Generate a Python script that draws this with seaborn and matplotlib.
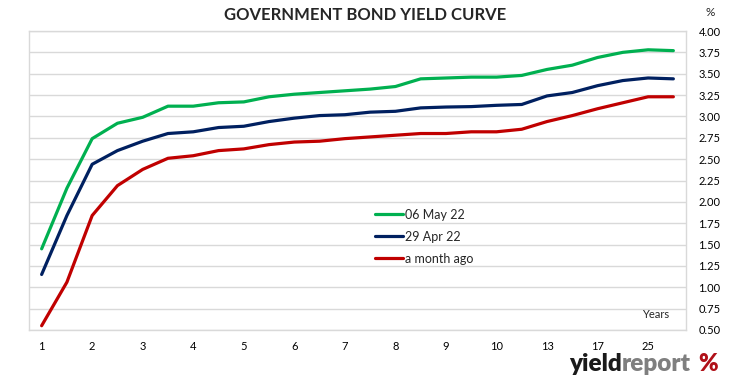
import pandas as pd
import seaborn as sns
import matplotlib.pyplot as plt

# tenor buckets (years) shown on the x axis
tenors = ["1", "1.5", "2", "2.5", "3", "3.5", "4", "4.5", "5", "5.5", "6", "6.5", "7",
          "7.5", "8", "8.5", "9", "9.5", "10", "12", "13", "15", "17", "20", "25", "30"]
tick_labels = ["1", "2", "3", "4", "5", "6", "7", "8", "9", "10", "13", "17", "25"]

may_06 = [1.45, 2.16, 2.74, 2.92, 2.99, 3.12, 3.12, 3.16, 3.17, 3.23, 3.26, 3.28, 3.30,
          3.32, 3.35, 3.44, 3.45, 3.46, 3.46, 3.48, 3.55, 3.60, 3.69, 3.75, 3.78, 3.77]
apr_29 = [1.15, 1.84, 2.44, 2.60, 2.71, 2.80, 2.82, 2.87, 2.885, 2.94, 2.98, 3.01, 3.02,
          3.05, 3.06, 3.10, 3.11, 3.115, 3.13, 3.14, 3.24, 3.28, 3.36, 3.42, 3.45, 3.44]
month_ago = [0.55, 1.06, 1.84, 2.19, 2.38, 2.51, 2.54, 2.60, 2.62, 2.67, 2.70, 2.71, 2.74,
             2.76, 2.78, 2.80, 2.80, 2.82, 2.82, 2.85, 2.94, 3.01, 3.09, 3.16, 3.23, 3.23]

series_names = ["06 May 22", "29 Apr 22", "a month ago"]
colors = ["#00B050", "#002060", "#C00000"]

frames = []
for name, vals in zip(series_names, [may_06, apr_29, month_ago]):
    frames.append(pd.DataFrame({"pos": range(len(tenors)), "yield": vals, "series": name}))
df = pd.concat(frames, ignore_index=True)

sns.set_style("white")
plt.rcParams["font.family"] = ["Lato", "DejaVu Sans"]

fig = plt.figure(figsize=(7.31, 3.81), dpi=100)
ax = fig.add_axes([29 / 731, 1 - 330 / 381, 657 / 731, 299 / 381])

sns.lineplot(data=df, x="pos", y="yield", hue="series", palette=colors,
             linewidth=2.3, ax=ax)

ax.set_xlim(-0.5, len(tenors) - 0.5)
ax.set_ylim(0.5, 4.0)
ax.set_xticks([tenors.index(t) for t in tick_labels])
ax.set_xticklabels(tick_labels)
ax.set_yticks([0.5 + 0.25 * i for i in range(15)])
ax.yaxis.set_major_formatter(plt.FuncFormatter(lambda v, p: f"{v:.2f}"))
ax.yaxis.tick_right()
ax.tick_params(axis="both", length=0, labelsize=8, colors="black")
ax.tick_params(axis="y", pad=9)
ax.tick_params(axis="x", pad=8)
ax.set_xlabel("")
ax.set_ylabel("")
ax.grid(axis="y", color="#D9D9D9", linewidth=1)
ax.set_axisbelow(True)
for sp in ax.spines.values():
    sp.set_color("#D9D9D9")
    sp.set_linewidth(1)

ax.legend(loc="upper left", bbox_to_anchor=(0.51, 0.443), frameon=False,
          fontsize=9, handlelength=2.2, handletextpad=0.15, labelspacing=0.8)

ax.text(0.975, 0.035, "Years", transform=ax.transAxes, ha="right", va="bottom", fontsize=8)
fig.text(710 / 731, 1 - 13 / 381, "%", ha="center", va="center", fontsize=8.5)
fig.suptitle("GOVERNMENT BOND YIELD CURVE", x=365 / 731, y=1 - 15 / 381, va="center",
             fontsize=12, fontweight="bold")

# yieldreport % logo, pieces placed side by side
base_y = 1 - 371 / 381
t1 = fig.text(569 / 731, base_y, "yield", ha="left", va="baseline", fontsize=17.5,
              fontweight="heavy", color="#1A1A1A")
fig.canvas.draw()
x_end = t1.get_window_extent().x1 / fig.bbox.width
t2 = fig.text(x_end, base_y, "report", ha="left", va="baseline", fontsize=17.5,
              fontweight="heavy", color="#7F7F7F")
fig.text(718 / 731, base_y, "%", ha="right", va="baseline", fontsize=17,
         fontweight="heavy", color="#B01018")

fig.savefig("out.png", dpi=100)
